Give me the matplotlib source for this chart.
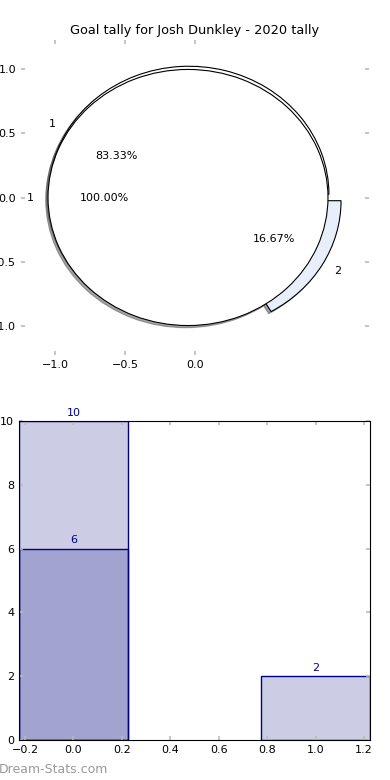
import matplotlib
matplotlib.use('Agg')
import matplotlib.pyplot as plt

# Data
tally_values = [5, 1]
tally_labels = ['1', '2']
total_values = [1]
total_labels = ['1']
bar_positions = [0, 1]
bar_totals = [10, 2]
bar_goals = [6, 0]
title = 'Goal tally for Josh Dunkley - 2020 tally'

fig = plt.figure(figsize=(3.9, 7.8), dpi=100)

# Pie chart (top) - two pies overlaid
ax1 = fig.add_axes([21 / 390, 1 - 355 / 780, 348 / 390, 315 / 780])
wedge_style = {'edgecolor': 'black', 'linewidth': 0.8}
shadow_style = {'ox': -0.012, 'oy': -0.012}
ax1.pie(tally_values, labels=tally_labels, autopct='%1.2f%%',
        explode=[0.05, 0.05], colors=['white', '#e8eefa'],
        shadow=shadow_style, wedgeprops=wedge_style,
        textprops={'fontsize': 8})
ax1.pie(total_values, labels=total_labels, autopct='%1.2f%%',
        explode=[0.05], colors=['white'],
        shadow=shadow_style, wedgeprops=wedge_style,
        textprops={'fontsize': 8})
ax1.set_aspect('auto')
ax1.set_frame_on(True)
for s in ax1.spines.values():
    s.set_visible(False)
ax1.set_xlim(-1.243, 1.243)
ax1.set_ylim(-1.23, 1.23)
ax1.set_xticks([-1.0, -0.5, 0.0])
ax1.set_yticks([1.0, 0.5, 0.0, -0.5, -1.0])
ax1.tick_params(direction='in', length=3, width=1.2, color='#bbbbbb',
                labelsize=8, top=True, right=True)
ax1.set_title(title, fontsize=9.3, pad=4)

# Bar chart (bottom)
ax2 = fig.add_axes([19 / 390, 1 - 740 / 780, 351 / 390, 319 / 780])
ax2.bar(bar_positions, bar_totals, width=0.45, color='navy', alpha=0.2)
ax2.bar(bar_positions, bar_goals, width=0.45, color='navy', alpha=0.2)
# outlines in full colour
ax2.bar(bar_positions, bar_totals, width=0.45, fill=False, edgecolor='navy',
        linewidth=1)
ax2.bar(bar_positions[:1], bar_goals[:1], width=0.45, fill=False,
        edgecolor='navy', linewidth=1)
for x, h in zip(bar_positions, bar_totals):
    ax2.text(x, h + 0.1, str(h), ha='center', va='bottom', color='navy',
             fontsize=8)
ax2.text(bar_positions[0], bar_goals[0] + 0.1, str(bar_goals[0]), ha='center',
         va='bottom', color='navy', fontsize=8)
ax2.set_xlim(-0.225, 1.225)
ax2.set_ylim(0, 10)
ax2.set_xticks([-0.2, 0.0, 0.2, 0.4, 0.6, 0.8, 1.0, 1.2])
ax2.set_yticks([0, 2, 4, 6, 8, 10])
ax2.tick_params(direction='in', length=3, width=1.2, color='#bbbbbb',
                labelsize=8, top=True, right=True)

fig.text(-0.003, 0.005, 'Dream-Stats.com', color='#999999', fontsize=9,
         ha='left', va='bottom')

fig.savefig('out.png', dpi=100)
